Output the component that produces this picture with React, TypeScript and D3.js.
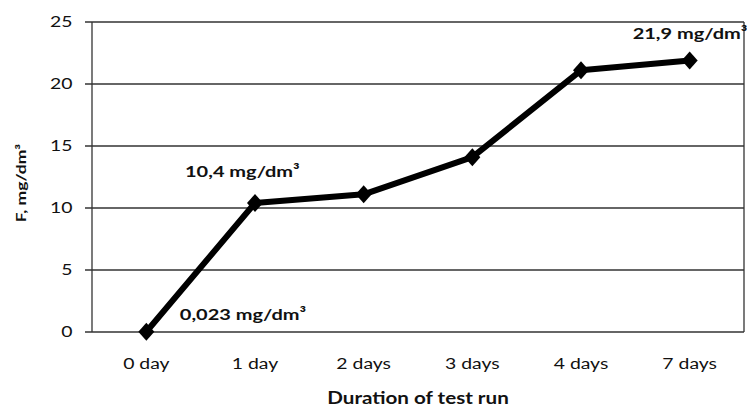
import React from "react";
import * as d3 from "d3";

const categories = ["0 day", "1 day", "2 days", "3 days", "4 days", "7 days"];
const values = [0.023, 10.4, 11.1, 14.1, 21.1, 21.9];
const yTicks = [0, 5, 10, 15, 20, 25];
const annotations = [
  { index: 0, text: "0,023 mg/dm³" },
  { index: 1, text: "10,4 mg/dm³" },
  { index: 5, text: "21,9 mg/dm³" },
];

const W = 747, H = 407;
const m = { left: 92, right: 3, top: 22, bottom: 75 };
const SX = 1.25;

export default function App() {
  const x = d3.scaleBand<string>().domain(categories).range([m.left, W - m.right]).padding(0);
  const y = d3.scaleLinear().domain([0, 25]).range([H - m.bottom, m.top]);
  const cx = (c: string) => (x(c) as number) + x.bandwidth() / 2;
  const line = d3.line<number>().x((_, i) => cx(categories[i])).y((d) => y(d));
  const font = "Lato, 'Open Sans', sans-serif";
  const annOffsets: Record<number, [number, number]> = {
    0: [33.5, -12],
    1: [-70, -26],
    5: [-57, -21],
  };
  const T = (px: number, py: number, rot = 0) =>
    `translate(${px},${py})${rot ? ` rotate(${rot})` : ""} scale(${SX},1)`;
  const diamond = "M0,-9L8,0L0,9L-8,0Z";
  return (
    <svg width={W} height={H} style={{ position: "absolute", left: 0, top: 0, background: "#fff" }} fontFamily={font}>
      {yTicks.map((t) => (
        <g key={t}>
          <line x1={m.left - 7} x2={W - m.right} y1={y(t)} y2={y(t)} stroke="#333" strokeWidth={1.3} />
          <text transform={T(72.5, y(t))} dy="0.35em" textAnchor="end" fontSize={15.5} fill="#111">{t}</text>
        </g>
      ))}
      <line x1={m.left} x2={m.left} y1={m.top} y2={y(0)} stroke="#333" strokeWidth={1.3} />
      <line x1={W - m.right} x2={W - m.right} y1={m.top} y2={y(0)} stroke="#333" strokeWidth={1.3} />
      {categories.map((c) => (
        <text key={c} transform={T(cx(c), y(0) + 36.5)} textAnchor="middle" fontSize={15.5} fill="#111">{c}</text>
      ))}
      <text transform={T((m.left + W - m.right) / 2, 404)} textAnchor="middle" fontSize={16.5} fontWeight="bold" fill="#111">Duration of test run</text>
      <text transform={`translate(26,${(m.top + y(0)) / 2 + 6}) rotate(-90) scale(${SX},1)`} textAnchor="middle" fontSize={14} fontWeight="bold" fill="#111">F, mg/dm³</text>
      <path d={line(values) || ""} fill="none" stroke="#000" strokeWidth={6} strokeLinejoin="round" />
      {values.map((v, i) => (
        <path key={i} d={diamond} fill="#000" transform={`translate(${cx(categories[i])},${y(v)})`} />
      ))}
      {annotations.map((a) => {
        const [dx, dy] = annOffsets[a.index];
        return (
          <text key={a.index} transform={T(cx(categories[a.index]) + dx, y(values[a.index]) + dy)} fontSize={16} fontWeight="bold" fill="#111">{a.text}</text>
        );
      })}
    </svg>
  );
}
